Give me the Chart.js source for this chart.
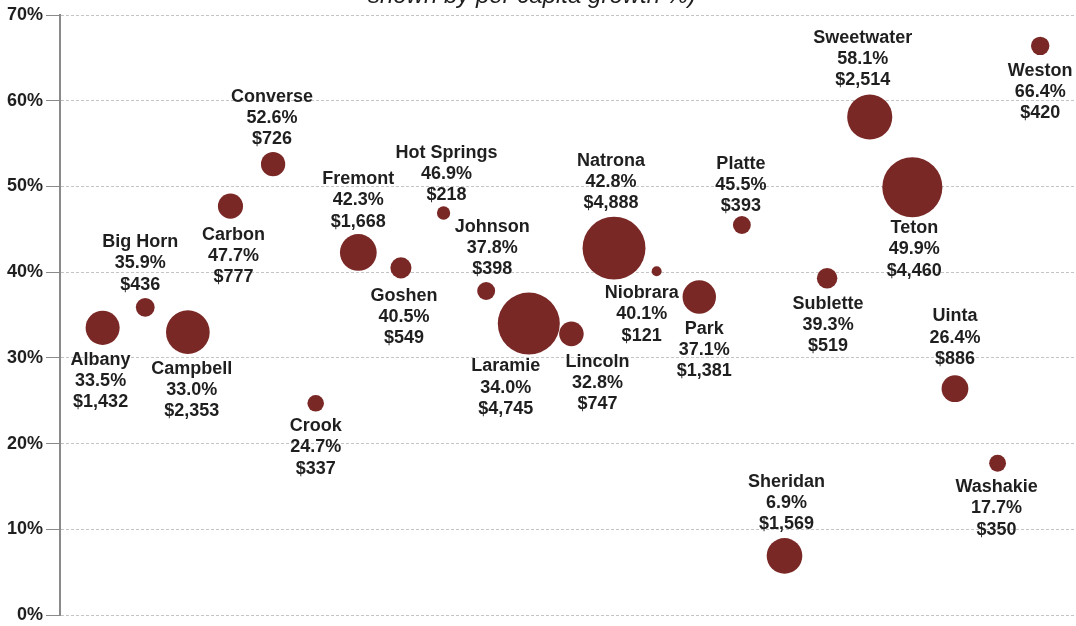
<!DOCTYPE html>
<html>
<head>
<meta charset="utf-8">
<script src="https://cdn.jsdelivr.net/npm/chart.js@4/dist/chart.umd.min.js"></script>
<style>
html,body{margin:0;padding:0;background:#fff;}
#wrap{width:1076px;height:626px;position:relative;}
</style>
</head>
<body>
<div id="wrap"><canvas id="c" width="1076" height="626"></canvas></div>
<script>
// ---- data ----
const counties = ["Albany","Big Horn","Campbell","Carbon","Converse","Crook","Fremont","Goshen","Hot Springs","Johnson","Laramie","Lincoln","Natrona","Niobrara","Park","Platte","Sheridan","Sublette","Sweetwater","Teton","Uinta","Washakie","Weston"];
const growthPct = [33.5,35.9,33.0,47.7,52.6,24.7,42.3,40.5,46.9,37.8,34.0,32.8,42.8,40.1,37.1,45.5,6.9,39.3,58.1,49.9,26.4,17.7,66.4];
const perCapitaDollars = [1432,436,2353,777,726,337,1668,549,218,398,4745,747,4888,121,1381,393,1569,519,2514,4460,886,350,420];
const yTicks = [0,10,20,30,40,50,60,70];
const titleText = "shown by per capita growth %)";

// ---- label placement (layout only): [dx, dy] of label block centre from bubble centre ----
const labelPlacement = {
  "Albany":[-2,53],"Big Horn":[-5,-44],"Campbell":[4,58],"Carbon":[3,50],"Converse":[-1,-46],
  "Crook":[0,44],"Fremont":[0,-52],"Goshen":[3,49],"Hot Springs":[3,-39],"Johnson":[6,-43],
  "Laramie":[-23,64],"Lincoln":[26,49],"Natrona":[-3,-66],"Niobrara":[-15,43],"Park":[5,53],
  "Platte":[-1,-40],"Sheridan":[2,-53],"Sublette":[1,47],"Sweetwater":[-7,-58],"Teton":[2,62],
  "Uinta":[0,-51],"Washakie":[-1,45],"Weston":[0,46]
};

const FONT = "'Liberation Sans', Arial, sans-serif";
const TEXT = "#1f1f1f";
const BUBBLE = "#7A2826";
const RADIUS_K = 0.45;

const points = counties.map((c,i)=>({x:i+1, y:growthPct[i], r:RADIUS_K*Math.sqrt(perCapitaDollars[i])}));

const fmtMoney = v => "$" + v.toLocaleString("en-US");

const labelPlugin = {
  id:"bubbleLabels",
  afterDatasetsDraw(chart){
    const ctx = chart.ctx;
    const meta = chart.getDatasetMeta(0);
    ctx.save();
    ctx.font = "bold 18px " + FONT;
    ctx.fillStyle = TEXT;
    ctx.textAlign = "center";
    ctx.textBaseline = "middle";
    meta.data.forEach((el,i)=>{
      const name = counties[i];
      const p = labelPlacement[name] || [0,0];
      const cx = el.x + p[0], cy = el.y + p[1];
      const lines = [name, growthPct[i].toFixed(1)+"%", fmtMoney(perCapitaDollars[i])];
      lines.forEach((t,j)=>ctx.fillText(t, cx, cy + (j-1)*21.3));
    });
    ctx.restore();
  }
};

const titlePlugin = {
  id:"cutTitle",
  afterDraw(chart){
    const ctx = chart.ctx;
    ctx.save();
    ctx.font = "italic 24px " + FONT;
    ctx.fillStyle = TEXT;
    ctx.textAlign = "center";
    ctx.textBaseline = "alphabetic";
    ctx.fillText(titleText, 532, 3);
    ctx.restore();
  }
};

new Chart(document.getElementById("c"), {
  type:"bubble",
  data:{datasets:[{
    data:points,
    backgroundColor:BUBBLE,
    borderColor:BUBBLE,
    borderWidth:0,
    hoverBorderWidth:0,
    clip:false
  }]},
  options:{
    responsive:false,
    animation:false,
    devicePixelRatio:1,
    layout:{autoPadding:false,padding:{left:0,top:15,right:0,bottom:11}},
    plugins:{legend:{display:false},tooltip:{enabled:false},title:{display:false}},
    scales:{
      x:{type:"linear",display:false,min:0,max:23.84},
      y:{
        type:"linear",min:0,max:70,
        afterBuildTicks:s=>{s.ticks = yTicks.map(v=>({value:v}));},
        afterFit:s=>{s.width=60;},
        ticks:{
          callback:v=>v+"%",
          font:{family:FONT,size:18,weight:"bold",lineHeight:0.8},
          color:TEXT,
          padding:3
        },
        grid:{
          color:"#c4c4c4",
          lineWidth:1,
          tickLength:14,
          tickColor:"#8a8a8a",
          tickWidth:1,
          tickBorderDash:[]
        },
        border:{display:true,color:"#8a8a8a",width:2,dash:[3,2]}
      }
    }
  },
  plugins:[labelPlugin,titlePlugin]
});
</script>
</body>
</html>
